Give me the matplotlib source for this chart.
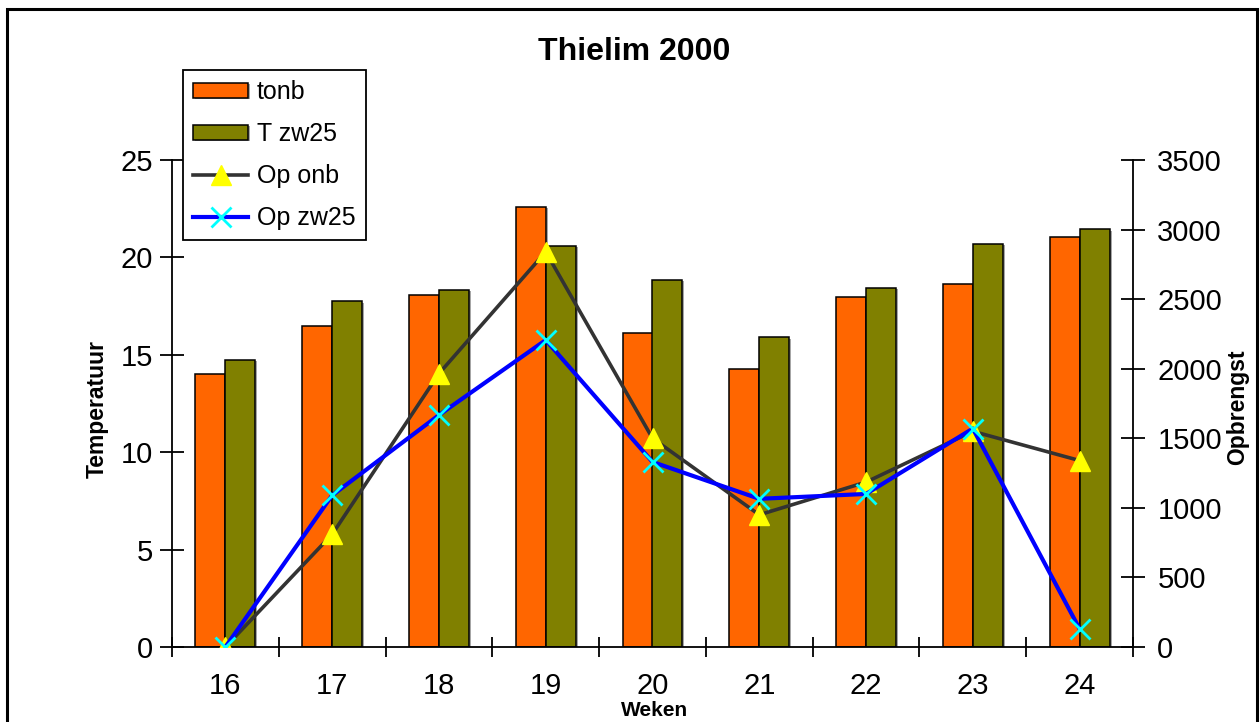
import numpy as np
import matplotlib
matplotlib.use('Agg')
import matplotlib.pyplot as plt
import matplotlib.patheffects as pe
from matplotlib.patches import Rectangle

plt.rcParams['font.family'] = ['Liberation Sans', 'DejaVu Sans']

# data
weeks = ['16', '17', '18', '19', '20', '21', '22', '23', '24']
tonb = [14.0, 16.5, 18.05, 22.6, 16.1, 14.25, 17.95, 18.65, 21.05]
t_zw25 = [14.75, 17.75, 18.35, 20.6, 18.85, 15.9, 18.45, 20.7, 21.45]
op_onb = [0, 810, 1965, 2840, 1500, 950, 1185, 1550, 1340]
op_zw25 = [0, 1090, 1667, 2206, 1330, 1065, 1100, 1570, 130]

W, H = 1260, 722
fig = plt.figure(figsize=(W / 100, H / 100), dpi=100)
ax = fig.add_axes([172 / W, 75 / H, (1133 - 172) / W, (647 - 160) / H])
ax2 = ax.twinx()

x = np.arange(len(weeks))
bw = 0.28
shadow = [pe.SimplePatchShadow(offset=(1.5, -1), shadow_rgbFace='gray', alpha=0.7), pe.Normal()]
b1 = ax.bar(x - bw / 2, tonb, bw, color='#FF6600', edgecolor='black', linewidth=1.1, label='tonb')
b2 = ax.bar(x + bw / 2, t_zw25, bw, color='#808000', edgecolor='black', linewidth=1.1, label='T zw25')
for r in list(b1) + list(b2):
    r.set_path_effects(shadow)

l1, = ax2.plot(x, op_onb, color='#333333', lw=2.6, marker='^', ms=15,
               mfc='yellow', mec='yellow', label='Op onb')
l2, = ax2.plot(x, op_zw25, color='blue', lw=3, marker='x', ms=14,
               mec='cyan', mew=2, label='Op zw25')

ax.set_xlim(-0.5, len(weeks) - 0.5)
ax.set_ylim(0, 25)
ax2.set_ylim(0, 3500)
ax.set_yticks(range(0, 26, 5))
ax2.set_yticks(range(0, 3501, 500))

# category boundaries carry the tick marks, labels sit in between
ax.set_xticks(np.arange(-0.5, len(weeks), 1))
ax.set_xticklabels([])
ax.set_xticks(x, minor=True)
ax.set_xticklabels(weeks, minor=True)
ax.tick_params(axis='x', which='major', direction='inout', length=15, width=1.3)
ax.tick_params(axis='x', which='minor', length=0, pad=18, labelsize=21)
ax.tick_params(axis='y', direction='inout', length=17, width=1.3, pad=5, labelsize=21)
ax2.tick_params(axis='y', direction='inout', length=17, width=1.3, pad=9, labelsize=21)

for a in (ax, ax2):
    a.spines['top'].set_visible(False)
    for s in a.spines.values():
        s.set_linewidth(1.3)
ax.spines['right'].set_visible(False)
ax2.spines['left'].set_visible(False)
ax2.spines['bottom'].set_visible(False)

fig.text(634 / W, 1 - 52 / H, 'Thielim 2000', ha='center', va='center',
         fontsize=23, fontweight='bold')
fig.text(97 / W, 1 - 409 / H, 'Temperatuur', rotation=90, ha='center', va='center',
         fontsize=16.5, fontweight='bold')
fig.text(1238 / W, 1 - 407 / H, 'Opbrengst', rotation=90, ha='center', va='center',
         fontsize=16.5, fontweight='bold')
fig.text(655 / W, 1 - 710 / H, 'Weken', ha='center', va='center',
         fontsize=15, fontweight='bold')

leg = ax2.legend([b1, b2, l1, l2], ['tonb', 'T zw25', 'Op onb', 'Op zw25'],
                 loc='upper left', bbox_to_anchor=(183 / W, 1 - 70 / H),
                 bbox_transform=fig.transFigure, fontsize=18, fancybox=False,
                 edgecolor='black', framealpha=1, borderaxespad=0,
                 handlelength=2.2, handleheight=0.55, handletextpad=0.36,
                 labelspacing=0.72, borderpad=0.4)
leg.get_frame().set_linewidth(1.3)

# outer frame of the picture
fig.patches.append(Rectangle((7 / W, -0.05), (1257 - 7) / W, 1 - 9 / H + 0.05,
                             transform=fig.transFigure, fill=False,
                             edgecolor='black', linewidth=2.2))

fig.savefig('out.png', dpi=100)
